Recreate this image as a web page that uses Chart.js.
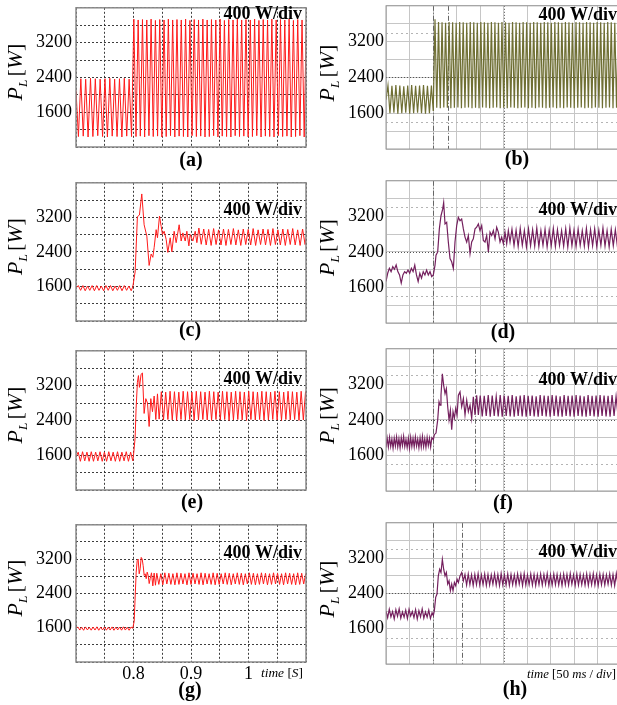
<!DOCTYPE html>
<html><head><meta charset="utf-8"><title>P_L load power transients</title>
<script src="https://cdn.jsdelivr.net/npm/chart.js@4.4.1/dist/chart.umd.min.js"></script>
<style>
html,body{margin:0;padding:0;background:#fff;}
body{width:617px;height:705px;overflow:hidden;position:relative;}
canvas{position:absolute;display:block;}
</style></head><body>
<script>
// ---------- axes / tick labels ----------
const yTicks = [800,1200,1600,2000,2400,2800,3200,3600,4000];
const yTickLabels = [1600,2400,3200];
const xTicksSim = [0.7,0.75,0.8,0.85,0.9,0.95,1.0,1.05,1.1];        // s
const xTickLabelsSim = ['0.8','0.9','1'];
const xTicksScope = [0,50,100,150,200,250,300,350,400,450,500];       // ms (50 ms/div)

// ---------- (a) simulation ----------
const aPre = [2100,1040,2370,1050,2360,1030,2380,1040,2370,1060,2360,1040,2370,1030,2380,1050,2360,1040,2370,1030,2380,1050,2360,1040];
const aPost = [3740,1040,3720,1050,3730,1030,3720,1060,3740,1040,3710,1050,3730,1030,3720,1040,3740,1060,3720,1030,
3730,1050,3720,1040,3740,1030,3710,1060,3730,1040,3720,1050,3740,1030,3720,1040,3730,1060,3720,1030,
3740,1050,3710,1040,3730,1030,3720,1060,3740,1040,3720,1050,3730,1030,3720,1040,3740,1060,3710,1030,
3730,1050,3720,1040,3740,1030,3720,1060,3730,1040,3720,1050,3740,1030,3710,1040,3730,1060,3720,1030,3740];

// ---------- (b) experiment ----------
const bPre = [1900,2220,1600,2210,1610,2230,1590,2220,1600,2200,1610,2220,1590,2230,1600,2210,1610,2220,1600,2230,1590,2210,1600,2220];
const bPost = [1650,
3700,1720,3640,1710,3630,1730,3620,1720,3640,1710,
3630,1720,3620,1730,3640,1710,3630,1720,3620,1730,
3640,1710,3630,1720,3620,1710,3640,1730,3630,1720,
3620,1710,3640,1720,3630,1730,3620,1710,3640,1720,
3630,1710,3620,1730,3640,1720,3630,1710,3620,1720,
3640,1730,3630,1710,3620,1720,3640,1710,3630,1730,
3620,1720,3640,1710,3630,1720,3620,1730,3640,1710,
3630,1720,3620,1710,3640,1730,3630,1720,3620,1710,
3640,1720,3630,1730,3620,1710,3640,1720,3630,1710,
3620,1730,3640,1720,3630,1710,3620,1720,3640,1730,
3630,1710,3620,1720,3640];

// ---------- (c) simulation ----------
const cPre = [1560,1620,1510,1620,1500,1610,1510,1620,1500,1620,1510,1610,1500,1620,1510,1620,1500,1610,1510,1620,1500,1620,1510,1610,1500];
const cT = [0.7988,0.8028,0.8068,0.8103,0.8144,0.8185,0.8232,0.8272,0.8307,0.8336,0.8359,0.8394,0.8417,0.8452,0.8481,0.8504,0.8533,0.8568,0.8597,0.8638,0.8667,0.8707,0.8742,0.8794,0.8829,0.8858,0.8899,0.8928,0.8963,0.8986,0.9032,0.9073,0.9102,0.9137,0.9178];
const cV = [1595,1934,3216,3254,3742,3028,2764,2086,2350,2275,2500,2915,2727,3230,2990,2802,2878,2690,2388,2727,2403,2878,2614,3028,2652,2840,2652,2878,2539,2802,2652,2878,2614,2953,2576];
const cPost = [2930,2560,2920,2550,2940,2570,2910,2560,2930,2550,2920,2570,2940,2560,2910,2550,2930,2570,2920,2560,2940,2550,2910,2570,2930,2560,2920,2550,2940,2570,2910,2560,2930,2550,2920,2570,2940,2560,2910,2550,2930,2570,2920];

// ---------- (d) experiment ----------
const dPre = [1734,1919,2030,1956,2067,2008,2104,1956,1882,1697,1882,1956,1919,1993,1919,2030,1956,2104,1882,1734,1919,1808,1956,1882,1993,1882,1956,1845];
const dT = [100.7,104.3,106.4,110.0,113.5,117.0,120.6,122.7,125.6,129.1,132.6,136.2,139.7,143.3,146.8,150.4,153.9,157.5,161.0,164.6,168.1,171.7,175.2,178.8,182.3,185.8,189.4,192.9,196.5,200.0,203.6,207.1,210.7,214.2,217.8,221.3,224.9,228.4,232.0,235.5,239.0,242.6,246.1,249.7,253.2,256.8,260.3,263.9];
const dV = [1882,2104,2326,2400,2918,3214,3362,3510,3029,3066,2622,2252,2178,2030,2622,2992,3177,3103,3140,2918,2733,2622,2770,2363,2622,2696,2918,2955,3029,2881,2992,2659,2622,2770,2400,2844,2770,2881,2696,2955,2844,2622,2733,2585,2844,2585,2881,2622];
const dPost = [2910,2540,2890,2520,2930,2550,2880,2510,2920,2540,2900,2530,2940,2520,2880,2550,2910,2510,2890,2540,2930,2520,2900,2550,2880,2530,2920,2510,2940,2540,2890,2520,2910,2550,2880,2530,2930,2510,2900,2540,2920,2520,2890,2550,2940,2530,2880,2510,2910,2540,2900,2520,2910];

// ---------- (e) simulation ----------
const ePre = [1560,1670,1460,1680,1470,1670,1460,1680,1460,1670,1470,1680,1460,1670,1460,1680,1470,1670,1460,1680,1460,1670,1470,1680,1460,1670,1470];
const eT = [0.8000,0.8028,0.8045,0.8068,0.8086,0.8103,0.8132,0.8155,0.8185,0.8214,0.8243,0.8272,0.8301,0.8330,0.8359,0.8388,0.8417,0.8446];
const eV = [1600,2000,2670,3275,3430,3160,3460,3490,2560,2900,2800,2260,2900,2600,2960,2420,3010,2430];
const ePost = [3060,2410,3050,2420,3070,2410,3060,2400,3050,2420,3070,2410,3060,2420,3050,2400,3070,2410,3060,2420,
3050,2410,3070,2400,3060,2420,3050,2410,3070,2420,3060,2400,3050,2410,3070,2420,3060,2410,3050,2400,
3070,2420,3060,2410,3050,2420,3070,2400,3060,2410,3050,2420,3070,2410,3060,2400,3050,2420,3070,2410,
3060,2420,3050,2400,3070,2410,3060,2420];

// ---------- (f) experiment ----------
const fPre = [1780,1990,1790,2010,1800,1970,1760,1990,1810,2020,1790,1980,1770,2000,1820,2030,1800,1960,1780,1990,1760,2010,1800,1990,1790,2020,1810,1970,1770,2000,1790,2030,1800,1980,1780,2010,1820,1990,1790,2000];
const fT = [100.7,102.9,106.4,110.0,112.8,114.9,117.0,119.9,122.7,125.6,128.4,131.3,134.1,137.0,139.8,142.6,145.5,148.3,151.2,154.0,157.5,161.0,164.6,168.1,171.7,175.2,178.8,182.3,185.8,189.4,192.9,196.5];
const fV = [1956,2067,2104,2400,2807,2733,2955,3436,3177,2992,3103,2696,2400,2622,2178,2585,2437,2659,2511,2955,3029,2696,2881,2511,2844,2585,2733,2437,2918,2511,2955,2511];
const fPost = [2950,2480,2940,2490,2960,2470,2950,2490,2930,2480,2960,2470,2950,2490,2940,2480,2960,2470,2930,2490,
2950,2480,2960,2470,2940,2490,2950,2480,2930,2470,2960,2490,2950,2480,2940,2470,2960,2490,2950,2480,
2930,2470,2960,2490,2940,2480,2950,2470,2960,2490,2950,2480,2930,2470,2960,2490,2940,2480,2950,2470,
2960,2490,2950,2480,2940,2470,2960,2490,2930,2480,2950];

// ---------- (g) simulation ----------
const gPre = [1580,1616,1545,1612,1540,1618,1548,1610,1542,1616,1545,1620,1540,1612,1548,1616,1542,1610,1545,1618,1540,1612,1548,1616,1542,1620,1545,1610,1540,1616];
const gT = [0.7988,0.8012,0.8030,0.8047,0.8064,0.8081,0.8099,0.8116,0.8134,0.8151,0.8168,0.8186,0.8203,0.8221,0.8238,0.8255,0.8273,0.8290,0.8313,0.8336,0.8359,0.8382];
const gV = [1586,1753,2363,2896,3163,3200,2857,2973,3239,3200,3046,2819,2857,2743,2896,2819,2629,2743,2880,2575,2873,2591];
const gPost = [2870,2610,2860,2600,2880,2620,2870,2610,2860,2600,2880,2610,2870,2620,2860,2600,2880,2610,2870,2620,
2860,2610,2880,2600,2870,2620,2860,2610,2880,2600,2870,2610,2860,2620,2880,2610,2870,2600,2860,2620,
2880,2610,2870,2600,2860,2620,2880,2610,2870,2600,2860,2610,2880,2620,2870,2600,2860,2610,2880,2620,
2870,2610,2860,2600,2880,2620,2870,2610,2860,2600,2880,2610,2870,2620,2860,2610];

// ---------- (h) experiment ----------
const hPre = [2000,1850,2040,1870,1990,1820,2030,1880,2050,1840,1980,1860,2020,1830,2040,1890,1990,1850,2030,1820,2010,1870,2050,1840,1980,1860,2020,1830,1960];
const hT = [100.7,102.9,105.7,108.5,111.3,114.2,117.0,119.9,122.7,125.6,128.4,131.3,134.1,137.0,139.8,142.6,145.5,148.3,151.2,154.0,157.5,161.0,164.6];
const hV = [1897,2010,2310,2385,2798,2948,2873,3173,2948,2798,2873,2610,2685,2460,2610,2460,2648,2573,2723,2648,2798,2873,2685];
const hPost = [2830,2590,2840,2600,2820,2580,2830,2600,2850,2590,2820,2600,2840,2580,2830,2590,2820,2610,2840,2590,
2830,2580,2850,2600,2820,2590,2840,2580,2830,2600,2820,2590,2840,2610,2830,2580,2850,2590,2820,2600,
2840,2590,2830,2580,2820,2600,2840,2590,2830,2610,2850,2580,2820,2590,2840,2600,2830,2590,2820,2580,
2840,2600,2830,2590,2850,2610,2820,2580,2840,2590,2830,2600,2820,2590,2840,2580,2830,2600,2850,2590,
2820,2580,2840,2600,2830,2590,2820,2610,2840,2590,2830,2580,2850,2600,2820];

// ---------- helpers ----------
const SERIF = '"Liberation Serif","Times New Roman",serif';
Chart.defaults.font.family = SERIF;
function seg(t0, dt, vals){ return vals.map((v,i)=>({x:t0+i*dt, y:v})); }
function pts(ts, vs){ return ts.map((t,i)=>({x:t, y:vs[i]})); }

function fontOf(r, s){
  return [r.st||'', r.b?'bold':'', Math.max(1,(s*(r.k||1))).toFixed(2)+'px', SERIF].filter(Boolean).join(' ');
}
function drawRuns(ctx, runs, x, y, align, size, fitW){
  const measure = s => runs.reduce((w,r)=>{ ctx.font = fontOf(r,s); return w + ctx.measureText(r.t).width + (r.gap||0); }, 0);
  let s = size, total = measure(s);
  if (fitW) { s = s*fitW/total; total = measure(s); }
  let cx = align==='right' ? x-total : (align==='center' ? x-total/2 : x);
  ctx.textAlign = 'left';
  for (const r of runs){
    ctx.font = fontOf(r,s);
    ctx.fillText(r.t, cx, y + (r.dy||0)*s/22);
    cx += ctx.measureText(r.t).width + (r.gap||0);
  }
}

const deco = {
  id:'deco',
  beforeDatasetsDraw(chart, args, o){
    if (!o || !o.lines) return;
    const {ctx, chartArea:a, scales} = chart;
    ctx.save();
    ctx.beginPath(); ctx.rect(a.left, a.top, a.right-a.left, a.bottom-a.top); ctx.clip();
    for (const L of o.lines){
      ctx.beginPath();
      ctx.strokeStyle = L.color; ctx.lineWidth = L.width||1; ctx.setLineDash(L.dash||[]);
      if (L.axis==='x'){ const p = Math.round(scales.x.getPixelForValue(L.v))+0.5; ctx.moveTo(p,a.top); ctx.lineTo(p,a.bottom); }
      else { const p = Math.round(scales.y.getPixelForValue(L.v))+0.5; ctx.moveTo(a.left,p); ctx.lineTo(a.right,p); }
      ctx.stroke();
    }
    ctx.restore();
  },
  afterDraw(chart, args, o){
    if (!o || o.ox===undefined) return;
    const {ctx, chartArea:a} = chart;
    ctx.save();
    ctx.setLineDash([]);
    ctx.strokeStyle = o.frame; ctx.lineWidth = o.frameW;
    ctx.strokeRect(a.left, a.top, a.right-a.left, a.bottom-a.top);
    ctx.fillStyle = '#000';
    // "400 W/div"
    ctx.textBaseline = 'middle'; ctx.textAlign = 'right';
    ctx.font = 'bold 18px '+SERIF;
    ctx.fillText('400 W/div', o.divX - o.ox, o.divY - o.oy);
    // panel letter
    ctx.textAlign = 'center';
    ctx.font = 'bold 20px '+SERIF;
    ctx.fillText(o.letter, o.lx - o.ox, o.ly - o.oy);
    // y title  P_L [W]
    ctx.save();
    ctx.translate(o.tx - o.ox, o.ty - o.oy);
    ctx.rotate(-Math.PI/2);
    ctx.textBaseline = 'alphabetic';
    drawRuns(ctx, [{t:'P',st:'italic'},{t:'L',st:'italic',k:0.6,dy:5,gap:3},{t:'[',st:''},{t:'W',st:'italic'},{t:']',st:''}], 0, 7, 'center', 22);
    ctx.restore();
    // time label
    if (o.time){
      ctx.textBaseline = 'middle';
      drawRuns(ctx, o.time.runs, o.time.x - o.ox, o.time.y - o.oy, 'right', 14, o.time.w);
    }
    ctx.restore();
  }
};
Chart.register(deco);

const RED = '#ff1c1c', OLIVE = '#6f6f33', PURPLE = '#74205e';

function scopeLines(cursors){
  const L = [
    {axis:'y', v:3400, color:'#b4b4b4', dash:[2,3]},
    {axis:'y', v:1400, color:'#b4b4b4', dash:[2,3]},
    {axis:'x', v:250, color:'#555', dash:[1,2]},
    {axis:'y', v:2400, color:'#555', dash:[1,2]}
  ];
  (cursors||[]).forEach(c => L.push({axis:'x', v:c, color:'#666', dash:[5,2,1,2]}));
  return L;
}

const panels = [
 {side:'L', top:5, bottom:147, color:RED, data:[...seg(0.7,0.0042,aPre), ...seg(0.8006,0.00375,aPost)], letter:'(a)', lx:191, ly:161, divY:14},
 {side:'R', top:5, bottom:149, color:OLIVE, data:[...seg(0,4.2,bPre), ...seg(100.5,3.75,bPost)], letter:'(b)', lx:517, ly:160, divY:15, cursors:[100,132]},
 {side:'L', top:180, bottom:321, color:RED, data:[...seg(0.7,0.004,cPre), ...pts(cT,cV), ...seg(0.9221,0.0043,cPost)], letter:'(c)', lx:190, ly:331, divY:210},
 {side:'R', top:180, bottom:323, color:PURPLE, data:[...seg(0,3.6,dPre), ...pts(dT,dV), ...seg(268,4.4,dPost)], letter:'(d)', lx:503, ly:333, divY:210, cursors:[100]},
 {side:'L', top:348, bottom:490, color:RED, data:[...seg(0.7,0.0038,ePre), ...pts(eT,eV), ...seg(0.8484,0.0038,ePost)], letter:'(e)', lx:192, ly:503, divY:379},
 {side:'R', top:348, bottom:491, color:PURPLE, data:[...seg(0,2.5,fPre), ...pts(fT,fV), ...seg(200.5,4.25,fPost)], letter:'(f)', lx:503, ly:504, divY:380, cursors:[100,189]},
 {side:'L', top:522, bottom:662, color:RED, data:[...seg(0.7,0.0033,gPre), ...pts(gT,gV), ...seg(0.8405,0.0035,gPost)], letter:'(g)', lx:190, ly:691, divY:553, xLabels:true,
   time:{x:303, y:673, w:42, runs:[{t:'time',st:'italic'},{t:' [',st:''},{t:'S',st:'italic'},{t:']',st:''}]}},
 {side:'R', top:522, bottom:664, color:PURPLE, data:[...seg(0,3.5,hPre), ...pts(hT,hV), ...seg(168,3.5,hPost)], letter:'(h)', lx:515, ly:690, divY:552, cursors:[100,162],
   time:{x:616, y:675, w:89, runs:[{t:'time ',st:'italic'},{t:'[50 ',st:''},{t:'ms',st:'italic'},{t:' / ',st:''},{t:'div',st:'italic'},{t:']',st:''}]}}
];

const PADTOP = 12, XH = 50;
panels.forEach(p => {
  const L = p.side==='L';
  const left = L ? 0 : 310, width = L ? 310 : 315;
  const top = p.top - PADTOP, height = PADTOP + (p.bottom - p.top) + XH;
  const c = document.createElement('canvas');
  c.width = width; c.height = height;
  c.style.left = left+'px'; c.style.top = top+'px';
  c.style.width = width+'px'; c.style.height = height+'px';
  document.body.appendChild(c);
  const xt = L ? xTicksSim : xTicksScope;
  new Chart(c, {
    type:'line',
    data:{ datasets:[{ data:p.data, borderColor:p.color, borderWidth: L ? 1 : 1.2, pointRadius:0, tension:0, fill:false }] },
    options:{
      responsive:false, animation:false, devicePixelRatio:1,
      layout:{ padding:{ left:0, right:4, top:PADTOP, bottom:0 } },
      plugins:{
        legend:{display:false}, tooltip:{enabled:false},
        deco:{
          ox:left, oy:top,
          frame: L ? '#8a8a8a' : '#9a9a9a', frameW: L ? 1.5 : 1,
          letter:p.letter, lx:p.lx, ly:p.ly,
          divX: L ? 302 : 617, divY:p.divY,
          tx: L ? 15 : 327, ty: (p.top+p.bottom)/2 - 4,
          lines: L ? [] : scopeLines(p.cursors),
          time: p.time
        }
      },
      scales:{
        x:{
          type:'linear', min:xt[0], max:xt[xt.length-1],
          afterBuildTicks: s => { s.ticks = xt.map(v=>({value:v})); },
          afterFit: s => { s.height = XH; },
          border:{ display:false, dash: L ? [2,2] : [] },
          grid:{ color: L ? 'rgba(40,40,40,0.9)' : '#c6c6c6', lineWidth:1, drawTicks:false },
          ticks:{
            display: !!p.xLabels, autoSkip:false, maxRotation:0, padding:1,
            color:'#000', font:{family:SERIF, size:18},
            callback: v => { const s = String(Math.round(v*100)/100); return xTickLabelsSim.includes(s) ? s : ''; }
          }
        },
        y:{
          type:'linear', min:800, max:4000,
          afterBuildTicks: s => { s.ticks = yTicks.map(v=>({value:v})); },
          afterFit: s => { s.width = 76; },
          border:{ display:false, dash: L ? [2,2] : [] },
          grid:{ color: L ? 'rgba(40,40,40,0.9)' : '#c6c6c6', lineWidth:1, drawTicks:false },
          ticks:{
            autoSkip:false, padding: L ? 4 : 2, color:'#000', font:{family:SERIF, size:18},
            callback: v => yTickLabels.includes(v) ? String(v) : ''
          }
        }
      }
    }
  });
});
</script>
</body></html>
